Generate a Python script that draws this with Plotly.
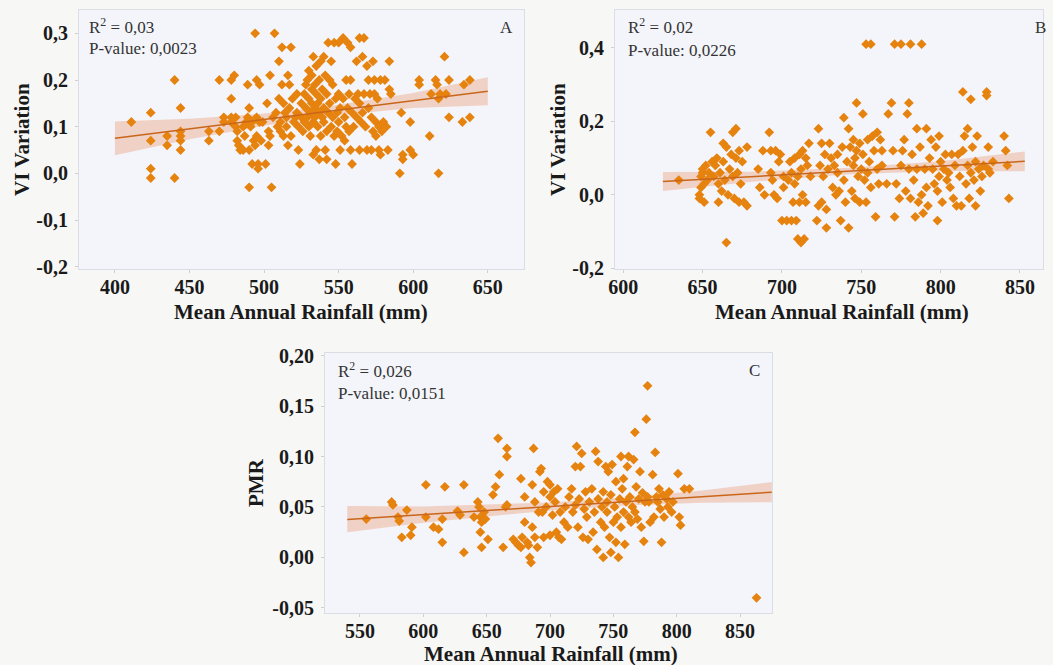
import plotly.graph_objects as go

# ---------------- Panel A data ----------------
a_pts = [(411,0.11),(424,0.13),(424,0.07),(424,0.01),(424,-0.01),(435,0.08),(435,0.06),(440,0.20),(440,-0.01),(444,0.14),(444,0.09),(444,0.08),(444,0.07),(444,0.05),(463,0.09),(463,0.07),(470,0.20),(470,0.09),(473,0.11),(473,0.12),(478,0.20),(480,0.21),(478,0.16),(478,0.12),(478,0.11),(481,0.12),(481,0.10),(482,0.09),(482,0.07),(483,0.06),(484,0.05),(486,0.05),(486,0.10),(487,0.08),(488,0.11),(489,0.12),(489,0.19),(490,0.14),(490,0.05),(490,-0.03),(491,0.10),(492,0.11),(492,0.02),(493,0.07),(494,0.30),(494,0.06),(495,0.20),(495,0.12),(495,0.08),(496,0.01),(496,0.02),(497,0.19),(497,0.11),(498,0.07),(499,0.11),(501,0.02),(502,0.15),(503,0.06),(503,0.09),(504,0.21),(504,0.08),(505,-0.03),(506,0.12),(507,0.30),(508,0.13),(509,0.10),(510,0.24),(510,0.16),(511,0.11),(511,0.09),(512,0.27),(512,0.19),(513,0.15),(513,0.08),(514,0.13),(515,0.12),(515,0.10),(516,0.06),(516,0.21),(517,0.19),(517,0.14),(518,0.27),(518,0.08),(519,0.16),(520,0.11),(521,0.12),(522,0.17),(522,0.13),(523,0.05),(523,0.10),(524,0.02),(525,0.15),(525,0.12),(526,0.09),(527,0.17),(527,0.11),(528,0.19),(528,0.14),(529,0.20),(529,0.12),(530,0.22),(530,0.16),(530,0.10),(531,0.08),(531,0.13),(532,0.21),(532,0.18),(532,0.15),(533,0.04),(533,0.11),(533,0.25),(534,0.19),(534,0.14),(534,0.12),(535,0.23),(535,0.17),(535,0.05),(536,0.15),(536,0.10),(537,0.20),(537,0.13),(537,0.03),(538,0.24),(538,0.16),(538,0.08),(539,0.12),(539,0.18),(540,0.25),(540,0.14),(540,0.11),(541,0.05),(541,0.21),(542,0.17),(542,0.09),(542,0.03),(543,0.28),(543,0.13),(544,0.20),(544,0.15),(545,0.24),(545,0.10),(546,0.19),(546,0.12),(547,0.28),(547,0.08),(548,0.16),(548,0.02),(549,0.13),(549,0.09),(550,0.28),(550,0.17),(550,0.11),(551,0.14),(551,0.05),(552,0.08),(553,0.29),(553,0.16),(554,0.12),(554,0.07),(555,0.20),(555,0.10),(556,0.28),(556,0.14),(557,0.09),(557,0.17),(558,0.27),(558,0.20),(558,0.05),(559,0.02),(559,0.13),(560,0.10),(561,0.16),(562,0.24),(562,0.12),(563,0.17),(564,0.29),(564,0.15),(564,0.05),(565,0.11),(566,0.25),(566,0.13),(567,0.29),(567,0.17),(568,0.10),(569,0.23),(569,0.05),(570,0.20),(570,0.14),(571,0.17),(572,0.12),(572,0.05),(573,0.24),(573,0.09),(574,0.20),(574,0.17),(575,0.11),(575,0.08),(576,0.16),(577,0.05),(577,0.10),(578,0.20),(578,0.04),(579,0.09),(580,0.11),(581,0.20),(582,0.10),(583,0.05),(584,0.24),(584,0.18),(585,0.17),(591,0.00),(592,0.13),(593,0.04),(593,0.03),(598,0.11),(598,0.05),(600,0.04),(604,0.20),(604,0.19),(611,0.08),(612,0.17),(615,0.20),(616,0.19),(617,0.16),(617,0.00),(618,0.17),(621,0.25),(622,0.17),(624,0.20),(624,0.12),(633,0.11),(634,0.19),(638,0.20),(638,0.12)]
a_x = [p[0] for p in a_pts]
a_y = [p[1] for p in a_pts]
a_fit_x = [400, 650]
a_fit_y = [0.075, 0.176]
a_band_x = [400, 450, 500, 540, 600, 650]
a_band_lo = [0.039, 0.073, 0.102, 0.122, 0.140, 0.146]
a_band_hi = [0.111, 0.117, 0.128, 0.142, 0.172, 0.206]

# ---------------- Panel B data ----------------
b_pts = [(635,0.04),(648,0.00),(648,-0.01),(649,0.02),(649,0.05),(650,0.06),(650,0.07),(651,0.03),(651,-0.02),(652,0.08),(653,0.04),(654,0.06),(655,0.17),(656,0.09),(657,0.05),(658,0.08),(659,0.10),(660,0.03),(660,-0.02),(661,0.06),(662,0.01),(663,0.14),(663,0.09),(664,0.04),(665,-0.13),(665,0.13),(666,0.00),(667,0.07),(668,0.11),(669,0.17),(669,0.05),(670,-0.01),(671,0.18),(671,0.10),(672,0.06),(673,0.12),(673,-0.02),(674,0.03),(675,0.09),(676,-0.02),(678,0.13),(678,-0.03),(685,0.07),(686,0.02),(688,0.12),(689,0.00),(692,0.17),(693,0.12),(693,0.06),(694,0.04),(695,0.00),(696,0.12),(697,-0.01),(698,0.09),(699,0.11),(700,-0.07),(701,0.05),(701,0.02),(703,-0.07),(704,0.04),(705,0.09),(706,-0.07),(706,0.06),(707,-0.02),(708,0.10),(708,0.03),(709,-0.07),(710,0.05),(710,-0.12),(711,0.11),(711,-0.02),(712,-0.13),(712,0.07),(713,0.12),(713,0.00),(714,-0.12),(715,0.10),(715,-0.02),(716,0.08),(717,0.14),(718,0.05),(722,-0.07),(723,0.18),(723,-0.03),(724,0.08),(725,0.14),(725,-0.02),(726,0.05),(727,0.11),(728,-0.09),(728,-0.04),(729,0.07),(730,0.14),(731,0.10),(732,0.02),(733,0.08),(734,0.00),(735,0.06),(735,0.11),(736,0.01),(737,-0.07),(738,0.13),(739,0.21),(739,0.04),(740,-0.02),(741,0.09),(742,0.18),(742,-0.09),(743,0.13),(744,0.01),(745,0.15),(745,0.08),(746,0.10),(746,-0.01),(747,0.25),(747,0.12),(748,0.05),(749,0.14),(749,-0.02),(750,0.07),(751,0.22),(751,0.11),(752,0.04),(753,0.41),(753,-0.02),(754,0.15),(754,0.06),(755,0.09),(756,0.41),(756,0.02),(757,0.16),(758,0.12),(759,-0.06),(760,0.17),(760,0.07),(761,0.03),(762,0.15),(763,0.08),(763,0.12),(766,0.03),(767,0.22),(769,0.25),(770,0.12),(771,0.41),(771,-0.06),(772,0.03),(774,-0.01),(775,0.41),(775,0.08),(776,0.12),(777,0.15),(778,0.01),(779,0.22),(780,0.25),(780,0.07),(781,0.41),(781,-0.01),(782,0.11),(783,0.04),(784,-0.06),(785,0.18),(785,0.07),(786,-0.02),(787,0.13),(788,0.41),(788,0.00),(789,-0.05),(790,0.07),(791,0.18),(791,0.02),(792,-0.03),(793,0.10),(794,0.15),(795,0.07),(796,0.03),(797,0.13),(798,-0.07),(798,0.01),(799,0.16),(799,0.05),(800,0.09),(801,-0.02),(802,0.07),(803,0.11),(804,0.04),(805,0.06),(806,0.02),(807,0.11),(808,-0.01),(809,0.08),(810,-0.03),(811,0.11),(812,0.05),(813,-0.03),(814,0.28),(814,0.12),(815,0.16),(816,0.03),(817,0.18),(817,0.08),(818,-0.01),(819,0.26),(819,0.06),(820,0.13),(821,0.04),(822,0.09),(822,-0.03),(823,0.16),(824,0.07),(825,0.01),(826,0.05),(827,0.08),(829,0.27),(829,0.28),(830,0.13),(830,0.07),(831,0.06),(833,0.09),(840,0.16),(841,0.12),(842,0.08),(843,-0.01)]
b_x = [p[0] for p in b_pts]
b_y = [p[1] for p in b_pts]
b_fit_x = [625, 853]
b_fit_y = [0.036, 0.091]
b_band_x = [625, 680, 740, 800, 853]
b_band_lo = [0.010, 0.035, 0.055, 0.065, 0.064]
b_band_hi = [0.062, 0.063, 0.073, 0.091, 0.118]

# ---------------- Panel C data ----------------
c_pts = [(555,0.038),(575,0.055),(576,0.052),(580,0.04),(581,0.036),(583,0.02),(587,0.047),(590,0.022),(591,0.03),(602,0.072),(602,0.04),(608,0.03),(612,0.028),(615,0.038),(615,0.015),(617,0.07),(627,0.046),(629,0.042),(632,0.072),(632,0.005),(640,0.04),(643,0.055),(644,0.05),(645,0.025),(645,0.04),(646,0.035),(646,0.01),(648,0.045),(649,0.038),(651,0.018),(655,0.062),(657,0.07),(659,0.118),(660,0.082),(663,0.01),(665,0.05),(666,0.108),(666,0.1),(666,0.052),(671,0.018),(673,0.015),(675,0.012),(677,0.078),(677,0.01),(678,0.02),(680,0.035),(680,0.06),(682,0.015),(683,0.012),(684,0.0),(685,-0.005),(686,0.072),(686,0.03),(687,0.108),(688,0.02),(688,0.055),(690,0.01),(691,0.045),(692,0.085),(693,0.088),(694,0.045),(695,0.065),(695,0.02),(697,0.05),(698,0.075),(700,0.072),(700,0.06),(700,0.022),(702,0.042),(703,0.065),(704,0.055),(705,0.025),(706,0.068),(707,0.02),(708,0.045),(709,0.018),(711,0.035),(712,0.05),(714,0.03),(715,0.06),(717,0.068),(718,0.045),(720,0.052),(720,0.09),(721,0.11),(722,0.03),(723,0.058),(724,0.09),(725,0.103),(726,0.02),(727,0.048),(728,0.065),(729,0.04),(730,0.018),(731,0.055),(733,0.068),(734,0.025),(735,0.045),(736,0.105),(737,0.008),(738,0.095),(738,0.058),(740,0.035),(741,0.05),(742,0.0),(742,0.065),(743,0.03),(744,0.09),(745,0.055),(745,0.045),(746,0.085),(747,0.02),(748,0.062),(748,0.005),(749,0.092),(750,0.035),(751,0.05),(752,0.075),(752,0.015),(753,0.04),(754,0.0),(755,0.058),(756,0.1),(756,0.03),(757,0.068),(758,0.045),(758,0.078),(759,0.013),(760,0.055),(761,0.09),(762,0.1),(762,0.04),(763,0.06),(764,0.035),(765,0.05),(766,0.097),(767,0.124),(767,0.045),(768,0.07),(769,0.038),(770,0.058),(771,0.085),(772,0.03),(773,0.064),(774,0.016),(775,0.055),(776,0.137),(777,0.17),(777,0.06),(778,0.055),(779,0.035),(781,0.082),(782,0.04),(783,0.104),(784,0.06),(785,0.055),(786,0.068),(787,0.048),(788,0.015),(789,0.062),(790,0.04),(792,0.058),(793,0.05),(794,0.065),(796,0.045),(797,0.055),(801,0.083),(802,0.04),(803,0.032),(806,0.068),(810,0.068),(863,-0.04)]
c_x = [p[0] for p in c_pts]
c_y = [p[1] for p in c_pts]
c_fit_x = [540, 875]
c_fit_y = [0.0376, 0.0647]
c_band_x = [540, 600, 700, 760, 820, 875]
c_band_lo = [0.025, 0.0345, 0.0465, 0.0514, 0.0542, 0.0547]
c_band_hi = [0.051, 0.0505, 0.0545, 0.0594, 0.0662, 0.0747]

# tick labels
a_yticks = [-0.2, -0.1, 0.0, 0.1, 0.2, 0.3]
a_ytext = ["-0,2", "-0,1", "0,0", "0,1", "0,2", "0,3"]
b_yticks = [-0.2, 0.0, 0.2, 0.4]
b_ytext = ["-0,2", "0,0", "0,2", "0,4"]
c_yticks = [-0.05, 0.0, 0.05, 0.10, 0.15, 0.20]
c_ytext = ["-0,05", "0,00", "0,05", "0,10", "0,15", "0,20"]
a_xticks = [400, 450, 500, 550, 600, 650]
b_xticks = [600, 650, 700, 750, 800, 850]
c_xticks = [550, 600, 650, 700, 750, 800, 850]

stats = [("R<sup>2</sup> = 0,03", "P-value: 0,0023", "A"),
         ("R<sup>2</sup> = 0,02", "P-value: 0,0226", "B"),
         ("R<sup>2</sup> = 0,026", "P-value: 0,0151", "C")]

MARK = "#E6820E"
LINE = "#C8661A"
BAND = "rgba(236,150,110,0.38)"
SERIF = "Liberation Serif"
W, H = 1053, 665

fig = go.Figure()
panels = [
    (a_x, a_y, a_fit_x, a_fit_y, a_band_x, a_band_lo, a_band_hi, "x", "y"),
    (b_x, b_y, b_fit_x, b_fit_y, b_band_x, b_band_lo, b_band_hi, "x2", "y2"),
    (c_x, c_y, c_fit_x, c_fit_y, c_band_x, c_band_lo, c_band_hi, "x3", "y3"),
]
for px, py, fx, fy, bx, blo, bhi, xa, ya in panels:
    fig.add_trace(go.Scatter(x=bx + bx[::-1], y=bhi + blo[::-1], fill="toself",
                             fillcolor=BAND, line=dict(width=0), mode="lines",
                             hoverinfo="skip", xaxis=xa, yaxis=ya, showlegend=False))
    fig.add_trace(go.Scatter(x=px, y=py, mode="markers",
                             marker=dict(symbol="diamond", size=7.5, color=MARK,
                                         line=dict(width=0)),
                             xaxis=xa, yaxis=ya, showlegend=False))
    fig.add_trace(go.Scatter(x=fx, y=fy, mode="lines", line=dict(color=LINE, width=1.5),
                             xaxis=xa, yaxis=ya, showlegend=False))

tickfont = dict(family=SERIF, size=20, color="#1a1a1a", weight="bold")
axcommon = dict(showgrid=False, zeroline=False, showline=True, linecolor="#dcdce6",
                linewidth=1, mirror=True, ticks="outside", ticklen=3, tickcolor="#cfcfcf",
                tickfont=tickfont, automargin=False)
xcommon = dict(axcommon, ticklabelstandoff=-3)
ycommon = dict(axcommon, ticklabelstandoff=3)

def dx(a, b):
    return [a / W, b / W]
def dy(top, bottom):
    return [1 - bottom / H, 1 - top / H]

fig.update_layout(
    width=W, height=H, margin=dict(l=0, r=0, t=0, b=0),
    paper_bgcolor="#F7F7F6", plot_bgcolor="#F3F5FA",
    xaxis=dict(domain=dx(79, 524), range=[375.9, 674.3], tickvals=a_xticks, anchor="y", **xcommon),
    yaxis=dict(domain=dy(10, 269), range=[-0.205, 0.35], tickvals=a_yticks, ticktext=a_ytext, anchor="x", **ycommon),
    xaxis2=dict(domain=dx(615, 1043), range=[594.8, 864.5], tickvals=b_xticks, anchor="y2", **xcommon),
    yaxis2=dict(domain=dy(10, 269), range=[-0.202, 0.503], tickvals=b_yticks, ticktext=b_ytext, anchor="x2", **ycommon),
    xaxis3=dict(domain=dx(325, 772), range=[522.4, 875.2], tickvals=c_xticks, anchor="y3", **xcommon),
    yaxis3=dict(domain=dy(353, 613), range=[-0.055, 0.2025], tickvals=c_yticks, ticktext=c_ytext, anchor="x3", **ycommon),
)

annots = []
statfont = dict(family=SERIF, size=17, color="#333333")
letterfont = dict(family=SERIF, size=17, color="#333333")

def txt(text, x, y, font, anchor="left", angle=0):
    return dict(text=text, xref="paper", yref="paper", x=x / W, y=1 - y / H,
                xanchor=anchor, yanchor="middle", showarrow=False, font=font, textangle=angle)

# (R2 left x, R2 y, P y, letter x, letter y)
stat_pos = [(87, 26, 48, 506, 27), (626, 26, 50, 1040, 27), (336, 370, 393, 754, 370)]
for (r2, pv, letter), (lx, ry, py_, cx, cy) in zip(stats, stat_pos):
    annots.append(txt(r2, lx, ry, statfont))
    annots.append(txt(pv, lx, py_, statfont))
    annots.append(txt(letter, cx, cy, letterfont, anchor="center"))

titlefont = dict(family=SERIF, size=21, color="#1a1a1a")
annots += [
    txt("<b>Mean Annual Rainfall (mm)</b>", 301, 312, titlefont, "center"),
    txt("<b>Mean Annual Rainfall (mm)</b>", 842, 312, titlefont, "center"),
    txt("<b>Mean Annual Rainfall (mm)</b>", 551, 654, titlefont, "center"),
    txt("<b>VI Variation</b>", 22, 140, titlefont, "center", -90),
    txt("<b>VI Variation</b>", 558, 140, titlefont, "center", -90),
    txt("<b>PMR</b>", 256, 483, titlefont, "center", -90),
]
fig.update_layout(annotations=annots)
fig.write_html("out.html")
